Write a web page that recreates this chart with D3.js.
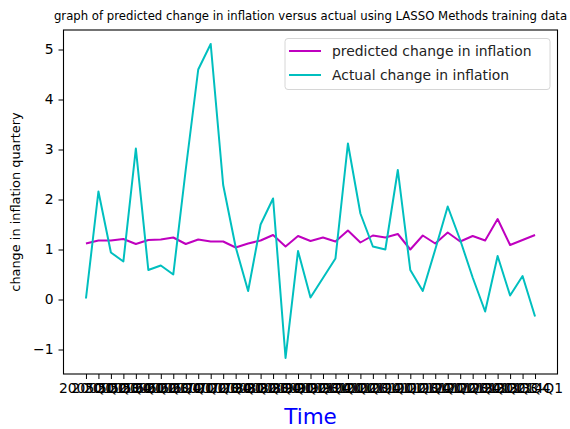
<!DOCTYPE html>
<html>
<head>
<meta charset="utf-8">
<script src="https://cdn.jsdelivr.net/npm/d3@7"></script>
<style>
  body { margin: 0; background: #fff; }
  svg text { font-family: "DejaVu Sans", sans-serif; }
</style>
</head>
<body>
<div id="chart"></div>
<script>
// quarters on the x axis (training period)
var quarters = ["2005Q1","2005Q2","2005Q3","2005Q4","2006Q1","2006Q2","2006Q3","2006Q4",
  "2007Q1","2007Q2","2007Q3","2007Q4","2008Q1","2008Q2","2008Q3","2008Q4",
  "2009Q1","2009Q2","2009Q3","2009Q4","2010Q1","2010Q2","2010Q3","2010Q4",
  "2011Q1","2011Q2","2011Q3","2011Q4","2012Q1","2012Q2","2012Q3","2012Q4",
  "2013Q1","2013Q2","2013Q3","2013Q4","2014Q1"];

var predicted = [1.12, 1.18, 1.18, 1.21, 1.11, 1.19, 1.20, 1.24, 1.11, 1.20,
  1.16, 1.16, 1.04, 1.12, 1.18, 1.29, 1.06, 1.27, 1.17, 1.24,
  1.16, 1.38, 1.14, 1.28, 1.24, 1.31, 1.00, 1.28, 1.12, 1.34,
  1.16, 1.27, 1.18, 1.61, 1.09, 1.19, 1.29];

var actual = [0.02, 2.16, 0.94, 0.76, 3.02, 0.59, 0.68, 0.50, 2.60, 4.60,
  5.11, 2.29, 1.05, 0.17, 1.50, 2.02, -1.17, 0.97, 0.04, 0.43,
  0.82, 3.12, 1.72, 1.06, 1.00, 2.59, 0.59, 0.17, 1.00, 1.86,
  1.19, 0.44, -0.24, 0.87, 0.08, 0.47, -0.34];

var yTicks = [-1, 0, 1, 2, 3, 4, 5];

var seriesNames = ["predicted change in inflation", "Actual change in inflation"];
var seriesColors = ["#bf00bf", "#00bfbf"];

var W = 570, H = 429;
var margin = {top: 30, right: 12.5, bottom: 55, left: 63.5};
var width = W - margin.left - margin.right,
    height = H - margin.top - margin.bottom;

var svg = d3.select("#chart").append("svg")
    .attr("width", W)
    .attr("height", H);

var g = svg.append("g")
    .attr("transform", "translate(" + margin.left + "," + margin.top + ")");

var x = d3.scalePoint()
    .domain(quarters)
    .range([0, width])
    .padding(1.8);

var y = d3.scaleLinear()
    .domain([-1.49, 5.39])
    .range([height, 0]);

// axes
var xAxis = g.append("g")
    .attr("transform", "translate(0," + height + ")")
    .call(d3.axisBottom(x).tickSize(5).tickPadding(4));

var yAxis = g.append("g")
    .call(d3.axisLeft(y).tickValues(yTicks).tickSize(5).tickPadding(5)
      .tickFormat(function(d){ return d < 0 ? "\u2212" + Math.abs(d) : d; }));

[xAxis, yAxis].forEach(function(ax){
  ax.select(".domain").remove();
  ax.selectAll(".tick line").attr("stroke", "#000").attr("stroke-width", 1);
  ax.selectAll(".tick text")
    .attr("fill", "#000")
    .style("font-size", "13.9px");
});

// lines
var line = d3.line()
    .x(function(d, i){ return x(quarters[i]); })
    .y(function(d){ return y(d); });

[predicted, actual].forEach(function(s, k){
  g.append("path")
    .datum(s)
    .attr("fill", "none")
    .attr("stroke", seriesColors[k])
    .attr("stroke-width", 2)
    .attr("stroke-linejoin", "round")
    .attr("d", line);
});

// frame
g.append("rect")
    .attr("width", width)
    .attr("height", height)
    .attr("fill", "none")
    .attr("stroke", "#000")
    .attr("stroke-width", 1.1);

// legend
var leg = g.append("g")
    .attr("transform", "translate(" + (width - 272.5) + ",8.5)");

leg.append("rect")
    .attr("width", 265)
    .attr("height", 51)
    .attr("rx", 3)
    .attr("fill", "#fff")
    .attr("fill-opacity", 0.8)
    .attr("stroke", "#d6d6d6");

seriesNames.forEach(function(name, k){
  var row = leg.append("g")
      .attr("transform", "translate(0," + (12.5 + k * 24) + ")");
  row.append("line")
      .attr("x1", 4).attr("x2", 36)
      .attr("stroke", seriesColors[k])
      .attr("stroke-width", 2);
  row.append("text")
      .attr("x", 47)
      .attr("dy", "0.35em")
      .style("font-size", "13.9px")
      .attr("fill", "#222")
      .text(name);
});

// title and labels
svg.append("text")
    .attr("x", margin.left + width / 2)
    .attr("y", 20)
    .attr("text-anchor", "middle")
    .style("font-size", "11.7px")
    .attr("fill", "#000")
    .text("graph of predicted change in inflation versus actual using LASSO Methods training data");

svg.append("text")
    .attr("transform", "translate(20," + (margin.top + height / 2) + ") rotate(-90)")
    .attr("text-anchor", "middle")
    .style("font-size", "12.9px")
    .attr("fill", "#000")
    .text("change in inflation quartery");

svg.append("text")
    .attr("x", margin.left + width / 2)
    .attr("y", 424)
    .attr("text-anchor", "middle")
    .style("font-size", "21.5px")
    .attr("fill", "#0000ff")
    .text("Time");
</script>
</body>
</html>
